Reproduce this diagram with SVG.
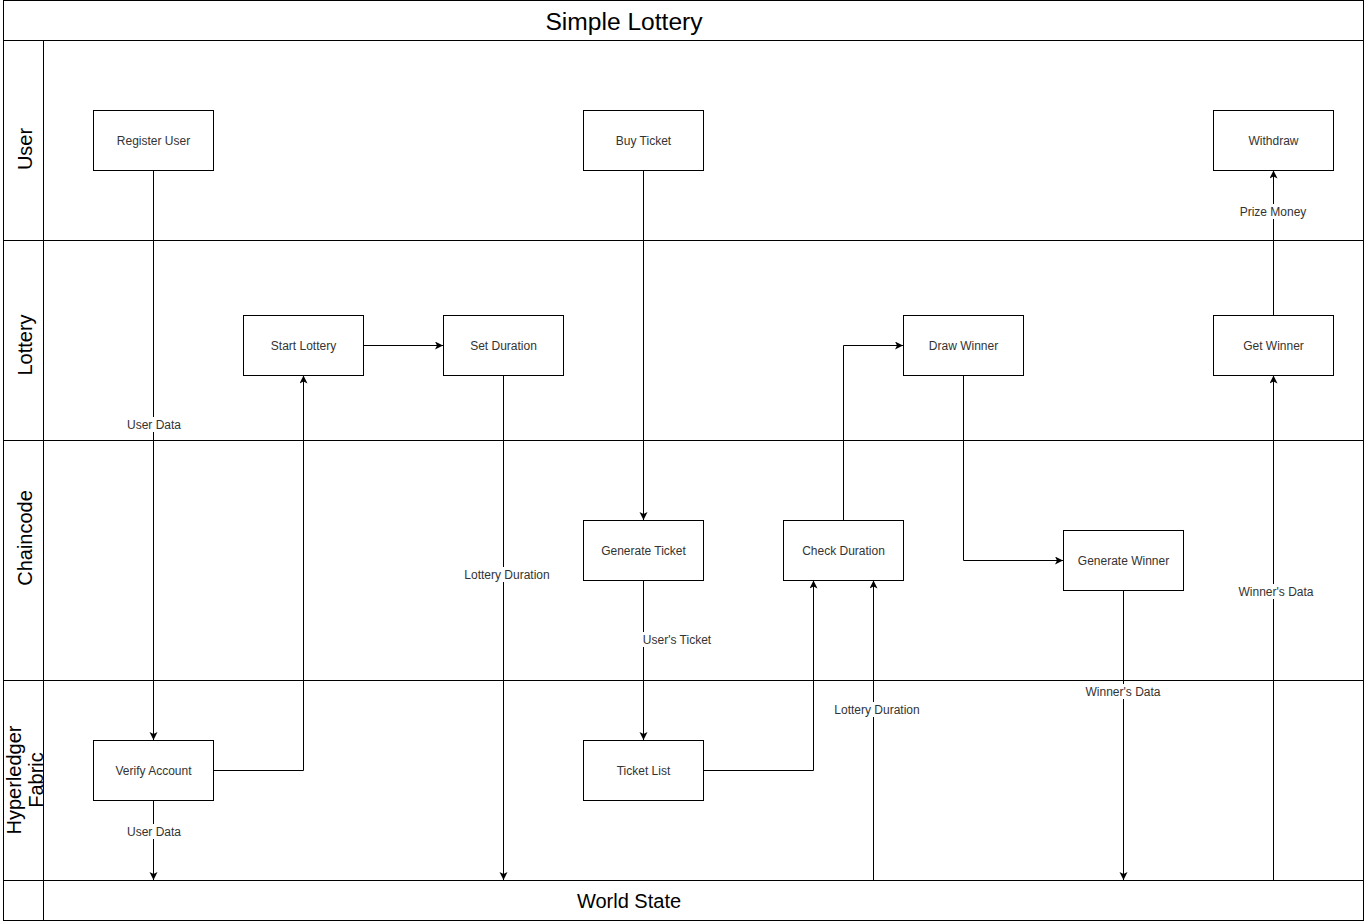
<svg xmlns="http://www.w3.org/2000/svg" width="1365" height="923" viewBox="0 0 1365 923">
<defs>
<style>
.frame{fill:none;stroke:#000;stroke-width:1}
.node rect{fill:#fff;stroke:#000;stroke-width:1}
.node text{font-family:"Liberation Sans",Arial,sans-serif;font-size:12px;fill:#333;text-anchor:middle;dominant-baseline:central}
.edge{fill:none;stroke:#000;stroke-width:1}
.lbl rect{fill:#fff}
.lbl text{font-family:"Liberation Sans",Arial,sans-serif;font-size:12px;fill:#333;text-anchor:middle;dominant-baseline:central}
.lane{font-family:"Liberation Sans",Arial,sans-serif;font-size:20px;fill:#000;text-anchor:middle;dominant-baseline:central}
.title{font-family:"Liberation Sans",Arial,sans-serif;font-size:24.6px;fill:#000;text-anchor:middle;dominant-baseline:central}
</style>
<marker id="arr" markerWidth="10" markerHeight="10" refX="8" refY="4" orient="auto" markerUnits="userSpaceOnUse">
<path d="M0,0 L8,4 L0,8 L2,4 z" fill="#000"/>
</marker>
</defs>
<rect x="0" y="0" width="1365" height="923" fill="#fff"/>
<g id="pool">
<rect class="frame" x="3.5" y="0.5" width="1360" height="920"/>
<line class="frame" x1="3.5" y1="40.5" x2="1363.5" y2="40.5"/>
<line class="frame" x1="43.5" y1="40.5" x2="43.5" y2="920.5"/>
<line class="frame" x1="3.5" y1="240.5" x2="1363.5" y2="240.5"/>
<line class="frame" x1="3.5" y1="440.5" x2="1363.5" y2="440.5"/>
<line class="frame" x1="3.5" y1="680.5" x2="1363.5" y2="680.5"/>
<line class="frame" x1="3.5" y1="880.5" x2="1363.5" y2="880.5"/>
<text class="title" x="624" y="21">Simple Lottery</text>
<text class="lane" x="629" y="900.5">World State</text>
<text class="lane" transform="translate(25,149) rotate(-90)">User</text>
<text class="lane" transform="translate(25,345) rotate(-90)">Lottery</text>
<text class="lane" transform="translate(25,538) rotate(-90)">Chaincode</text>
<text class="lane" transform="translate(14,780) rotate(-90)">Hyperledger</text>
<text class="lane" transform="translate(36,780) rotate(-90)">Fabric</text>
</g>
<g id="connectors">
<path class="edge" d="M153.5,170.5 V740" marker-end="url(#arr)"/>
<path class="edge" d="M213.5,770.5 H303.5 V375.5" marker-end="url(#arr)"/>
<path class="edge" d="M363.5,345.5 H443" marker-end="url(#arr)"/>
<path class="edge" d="M503.5,375.5 V880" marker-end="url(#arr)"/>
<path class="edge" d="M643.5,170.5 V520" marker-end="url(#arr)"/>
<path class="edge" d="M643.5,580.5 V740" marker-end="url(#arr)"/>
<path class="edge" d="M703.5,770.5 H813.5 V580.5" marker-end="url(#arr)"/>
<path class="edge" d="M873.5,880.5 V580.5" marker-end="url(#arr)"/>
<path class="edge" d="M843.5,520.5 V345.5 H903" marker-end="url(#arr)"/>
<path class="edge" d="M963.5,375.5 V560.5 H1063" marker-end="url(#arr)"/>
<path class="edge" d="M1123.5,590.5 V880" marker-end="url(#arr)"/>
<path class="edge" d="M1273.5,880.5 V375.5" marker-end="url(#arr)"/>
<path class="edge" d="M1273.5,315.5 V170.5" marker-end="url(#arr)"/>
<path class="edge" d="M153.5,800.5 V880" marker-end="url(#arr)"/>
<g class="lbl"><rect x="126" y="417" width="55" height="15"/><text x="154" y="424.5">User Data</text></g>
<g class="lbl"><rect x="464" y="567" width="87" height="15"/><text x="507" y="574.5">Lottery Duration</text></g>
<g class="lbl"><rect x="642" y="632" width="70" height="15"/><text x="677" y="639.5">User's Ticket</text></g>
<g class="lbl"><rect x="834" y="702" width="86" height="15"/><text x="877" y="709.5">Lottery Duration</text></g>
<g class="lbl"><rect x="1085" y="684" width="77" height="15"/><text x="1123" y="691.5">Winner's Data</text></g>
<g class="lbl"><rect x="1238" y="584" width="77" height="15"/><text x="1276" y="591.5">Winner's Data</text></g>
<g class="lbl"><rect x="1239" y="204" width="68" height="15"/><text x="1273" y="211.5">Prize Money</text></g>
<g class="lbl"><rect x="126" y="824" width="55" height="15"/><text x="154" y="831.5">User Data</text></g>
</g>
<g id="register-user" class="node"><rect x="93.5" y="110.5" width="120" height="60"/><text x="153.5" y="140.5">Register User</text></g>
<g id="buy-ticket" class="node"><rect x="583.5" y="110.5" width="120" height="60"/><text x="643.5" y="140.5">Buy Ticket</text></g>
<g id="withdraw" class="node"><rect x="1213.5" y="110.5" width="120" height="60"/><text x="1273.5" y="140.5">Withdraw</text></g>
<g id="start-lottery" class="node"><rect x="243.5" y="315.5" width="120" height="60"/><text x="303.5" y="345.5">Start Lottery</text></g>
<g id="set-duration" class="node"><rect x="443.5" y="315.5" width="120" height="60"/><text x="503.5" y="345.5">Set Duration</text></g>
<g id="draw-winner" class="node"><rect x="903.5" y="315.5" width="120" height="60"/><text x="963.5" y="345.5">Draw Winner</text></g>
<g id="get-winner" class="node"><rect x="1213.5" y="315.5" width="120" height="60"/><text x="1273.5" y="345.5">Get Winner</text></g>
<g id="generate-ticket" class="node"><rect x="583.5" y="520.5" width="120" height="60"/><text x="643.5" y="550.5">Generate Ticket</text></g>
<g id="check-duration" class="node"><rect x="783.5" y="520.5" width="120" height="60"/><text x="843.5" y="550.5">Check Duration</text></g>
<g id="generate-winner" class="node"><rect x="1063.5" y="530.5" width="120" height="60"/><text x="1123.5" y="560.5">Generate Winner</text></g>
<g id="verify-account" class="node"><rect x="93.5" y="740.5" width="120" height="60"/><text x="153.5" y="770.5">Verify Account</text></g>
<g id="ticket-list" class="node"><rect x="583.5" y="740.5" width="120" height="60"/><text x="643.5" y="770.5">Ticket List</text></g>
</svg>
